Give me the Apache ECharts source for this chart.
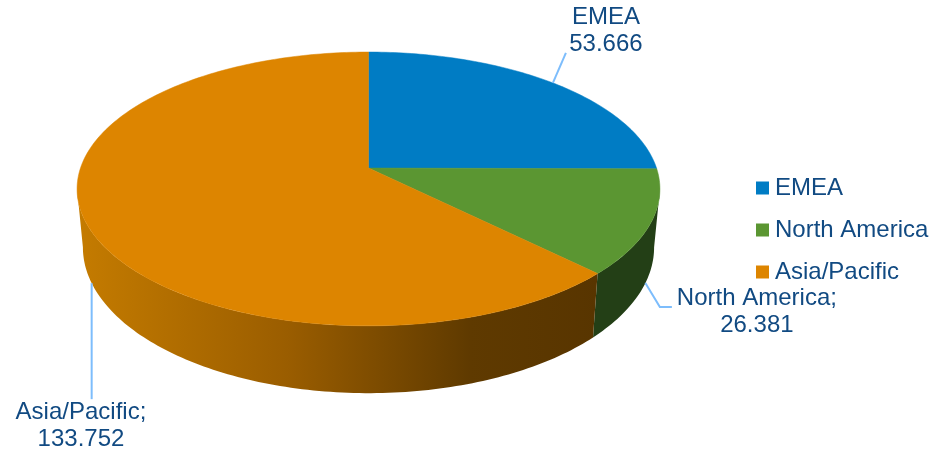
<!DOCTYPE html>
<html><head><meta charset="utf-8">
<script src="https://cdn.jsdelivr.net/npm/echarts@6/dist/echarts.min.js"></script>
<style>html,body{margin:0;padding:0;background:#fff}#c{width:930px;height:454px}</style>
</head><body><div id="c"></div>
<script>
// ---- data ----
const categories = ['EMEA', 'North America', 'Asia/Pacific'];
const values = [53.666, 26.381, 133.752];
const labelSeparators = ['\n', ';\n', ';\n'];

// ---- styles ----
const topColors = ['#007cc4', '#5b9632', '#dd8500'];
const sideColors = [
  '#003e63',
  '#233f16',
  {type: 'linear', x: 80, y: 0, x2: 600, y2: 0, global: true,
   colorStops: [{offset: 0, color: '#c47b00'}, {offset: 0.4, color: '#9a5d00'},
                {offset: 0.75, color: '#5f3a00'}, {offset: 1, color: '#583500'}]}
];
const textColor = '#114a82';
const leaderColor = '#7dbdfc';
const font = 'Liberation Sans, Arial, sans-serif';

// ---- 3D projection (perspective disc) ----
const cx = 368.5, cy = 168, A = 288, B = 133.7, K = 0.153, T = 57, S = 0.98;
function P(th) { const u = Math.sin(th), v = Math.cos(th), w = 1 + K * v; return [cx + A * u / w, cy - B * v / w]; }
function Pb(th) { const t = P(th), w = 1 + K * Math.cos(th); return [cx + (t[0] - cx) * S, t[1] + T / w]; }
const thRight = Math.acos(-K), thLeft = 2 * Math.PI - Math.acos(-K);

const total = values.reduce((a, b) => a + b, 0);
const starts = []; let acc = 0;
values.forEach(v => { starts.push(acc / total * 2 * Math.PI); acc += v; });

// label layout: anchor type, leader offsets, text offset
const labelLayout = [
  {anchor: 'top', leader: [[0, 0], [13, -30]], text: [53, -51.6]},
  {anchor: 'bottom', leader: [[0, 0], [14.5, 24], [26.5, 24]], text: [111.5, 28.5]},
  {anchor: 'bottom', leader: [[0, 0], [0, 116]], text: [-10.7, 143]}
];

function arcPts(a0, a1, fn) {
  const n = Math.max(2, Math.ceil((a1 - a0) / (Math.PI / 180)));
  const pts = [];
  for (let i = 0; i <= n; i++) pts.push(fn(a0 + (a1 - a0) * i / n));
  return pts;
}

function renderItem(params, api) {
  const i = params.dataIndex;
  const val = api.value(0);
  const a0 = starts[i], a1 = a0 + val / total * 2 * Math.PI;
  const children = [];
  // side (visible front part only)
  const s0 = Math.max(a0, thRight), s1 = Math.min(a1, thLeft);
  if (s1 > s0) {
    const top = arcPts(s0, s1, P), bot = arcPts(s0, s1, Pb).reverse();
    children.push({type: 'polygon', z2: 1, shape: {points: top.concat(bot)},
      style: {fill: sideColors[i], stroke: null}});
  }
  // top face
  const face = [[cx, cy]].concat(arcPts(a0, a1, P));
  children.push({type: 'polygon', z2: 10, shape: {points: face},
    style: {fill: topColors[i], stroke: topColors[i], lineWidth: 0.5}});
  // label
  const mid = (a0 + a1) / 2;
  const L = labelLayout[i];
  const anc = L.anchor === 'top' ? P(mid) : Pb(mid);
  children.push({type: 'polyline', z2: 15,
    shape: {points: L.leader.map(o => [anc[0] + o[0], anc[1] + o[1]])},
    style: {stroke: leaderColor, lineWidth: 2, fill: null}});
  children.push({type: 'text', z2: 20, x: anc[0] + L.text[0], y: anc[1] + L.text[1],
    style: {text: categories[i] + labelSeparators[i] + val.toFixed(3), fill: textColor,
      fontSize: 24, fontFamily: font, align: 'center', verticalAlign: 'middle', lineHeight: 27}});
  return {type: 'group', children};
}

const chart = echarts.init(document.getElementById('c'), null, {renderer: 'canvas'});
chart.setOption({
  animation: false,
  backgroundColor: '#fff',
  legend: {
    orient: 'vertical', left: 756, top: 175, padding: 0,
    icon: 'rect', itemWidth: 13, itemHeight: 13, itemGap: 16,
    selectedMode: false,
    data: categories,
    textStyle: {color: textColor, fontSize: 24, fontFamily: font, lineHeight: 26, padding: [0, 0, 0, 1]}
  },
  series: [
    {
      type: 'custom', coordinateSystem: 'none', silent: true,
      renderItem: renderItem,
      data: values.map(v => [v])
    },
    {
      type: 'pie', center: [-200, -200], radius: 1, silent: true,
      label: {show: false}, labelLine: {show: false},
      data: categories.map((c, i) => ({name: c, value: values[i], itemStyle: {color: topColors[i]}}))
    }
  ]
});
</script>
</body></html>
